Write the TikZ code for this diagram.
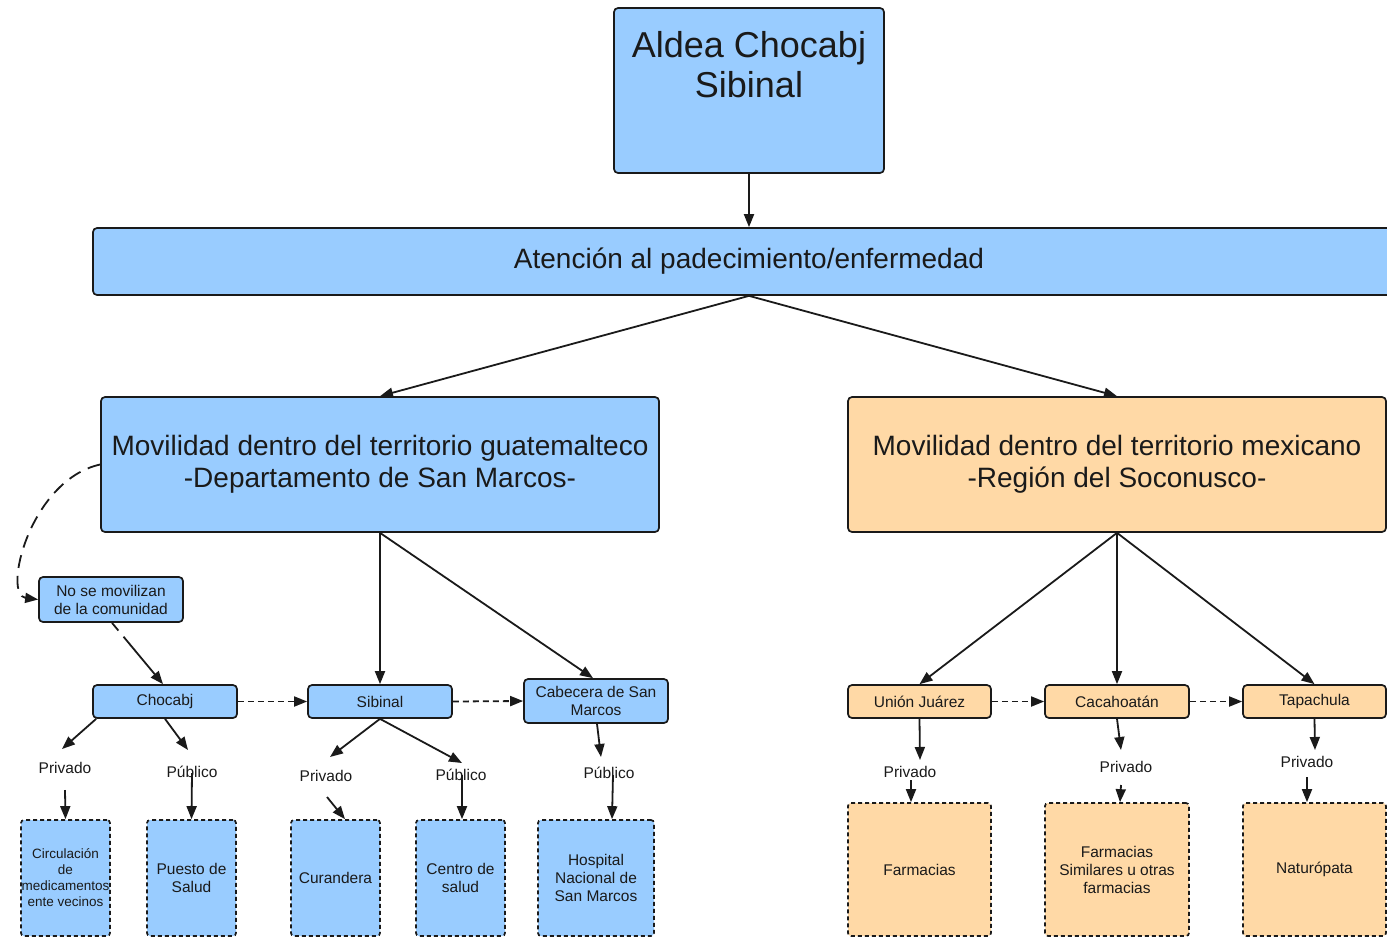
\documentclass[tikz,border=0pt]{standalone}
\usepackage{fontspec}
\setmainfont{Liberation Sans}
\usetikzlibrary{arrows.meta,calc}
\definecolor{bfill}{HTML}{99CCFF}
\definecolor{ofill}{HTML}{FFD9A6}
\definecolor{ink}{HTML}{1A1A1A}
\begin{document}
\begin{tikzpicture}[x=1pt,y=-1pt,
  box/.style={draw=ink, line width=1.7pt, rounded corners=4pt, fill=bfill, inner sep=0pt, align=center, text=ink},
  obox/.style={box, fill=ofill},
  small/.style={font=\fontsize{15.5}{18}\selectfont},
  big/.style={font=\fontsize{28}{32}\selectfont},
  leaf/.style={draw=ink, line width=1.7pt, dash pattern=on 4pt off 3pt, rounded corners=3pt, fill=bfill, inner sep=0pt, align=center, text=ink, font=\fontsize{15.5}{18}\selectfont},
  oleaf/.style={leaf, fill=ofill},
  lbl/.style={inner sep=1pt, text=ink, font=\fontsize{15.5}{18}\selectfont},
  arr/.style={draw=ink, line width=1.8pt, -{Triangle[length=13pt,width=10pt]}},
  darr/.style={arr, dash pattern=on 6pt off 4pt},
]
\clip (0,0) rectangle (1387,938);
\fill[white] (0,0) rectangle (1387,938);

% main boxes
\node[box, minimum width=270, minimum height=165,
  label={[yshift=25.5pt, align=center, text=ink, font=\fontsize{36}{40}\selectfont]center:Aldea Chocabj\\Sibinal}] (top) at (749,90.5) {};
\node[box, big, minimum width=1312, minimum height=67] (atn) at (749,261.5) {Atención al padecimiento/enfermedad};
\node[box, big, minimum width=558, minimum height=135] (guat) at (380,464.5) {Movilidad dentro del territorio guatemalteco\\-Departamento de San Marcos-};
\node[obox, big, minimum width=538, minimum height=135] (mex) at (1117,464.5) {Movilidad dentro del territorio mexicano\\-Región del Soconusco-};

% second level
\node[box, small, minimum width=144, minimum height=45] (nomov) at (111,599.5) {No se movilizan\\de la comunidad};
\node[box, small, minimum width=144, minimum height=33] (choc) at (165,701.5) {Chocabj};
\node[box, small, minimum width=144, minimum height=33] (sib) at (380,701.5) {Sibinal};
\node[box, small, minimum width=144, minimum height=44] (cab) at (596,701) {Cabecera de San\\Marcos};
\node[obox, small, minimum width=143, minimum height=33] (uni) at (919.5,701.5) {Unión Juárez};
\node[obox, small, minimum width=144, minimum height=33] (cac) at (1117,701.5) {Cacahoatán};
\node[obox, small, minimum width=143, minimum height=33] (tap) at (1314.5,701.5) {Tapachula};

% labels
\node[lbl] (pr1) at (65,768) {Privado};
\node[lbl] (pu1) at (192,772) {Público};
\node[lbl] (pr2) at (326,776) {Privado};
\node[lbl] (pu2) at (461,775) {Público};
\node[lbl] (pu3) at (609,773) {Público};
\node[lbl] (pr4) at (910,772) {Privado};
\node[lbl] (pr5) at (1126,767) {Privado};
\node[lbl] (pr6) at (1307,762) {Privado};

% leaves
\node[leaf, font=\fontsize{13.5}{16}\selectfont, minimum width=89, minimum height=116] (b1) at (65.5,878) {Circulación\\de\\medicamentos\\ente vecinos};
\node[leaf, minimum width=89, minimum height=116] (b2) at (191.5,878) {Puesto de\\Salud};
\node[leaf, minimum width=89, minimum height=116] (b3) at (335.5,878) {Curandera};
\node[leaf, minimum width=89, minimum height=116] (b4) at (460.5,878) {Centro de\\salud};
\node[leaf, minimum width=116, minimum height=116] (b5) at (596,878) {Hospital\\Nacional de\\San Marcos};
\node[oleaf, minimum width=143, minimum height=133] (b6) at (919.5,869.5) {Farmacias};
\node[oleaf, minimum width=144, minimum height=133] (b7) at (1117,869.5) {Farmacias\\Similares u otras\\farmacias};
\node[oleaf, minimum width=143, minimum height=133] (b8) at (1314.5,869.5) {Naturópata};

% connectors
\draw[arr] (top.south) -- (atn.north);
\draw[arr] (atn.south) -- (guat.north);
\draw[arr] (atn.south) -- (mex.north);
\draw[arr] (guat.south) -- (sib.north);
\draw[arr] (guat.south) -- ($(cab.north)+(-3,0)$);
\draw[arr, dash pattern=on 13pt off 8pt] (guat.west) .. controls (30,480) and (2,595) .. (nomov.west);
\draw[arr, dash pattern=on 10pt off 8pt on 60pt off 0pt] ($(nomov.south)+(1,0)$) -- ($(choc.north)+(-2,0)$);
\draw[darr] (choc.east) -- (sib.west);
\draw[darr] (sib.east) -- (cab.west);
\draw[darr] (uni.east) -- (cac.west);
\draw[darr] (cac.east) -- (tap.west);

\draw[arr] ($(choc.south west)+(4,0)$) -- ($(pr1)+(-3,-19)$);
\draw[arr] (choc.south) -- ($(pu1)+(-4,-22)$);
\draw[arr] ($(pr1)+(0,22)$) -- (b1.north);
\draw[arr] ($(pu1)+(0,1)$) -- (b2.north);
\draw[arr] (sib.south) -- ($(pr2)+(4,-19)$);
\draw[arr] (sib.south) -- ($(pu2)+(1,-12)$);
\draw[arr] ($(pr2)+(1,21)$) -- ($(b3.north)+(9.5,0)$);
\draw[arr] ($(pu2)+(1,0)$) -- ($(b4.north)+(1.5,0)$);
\draw[arr] ($(cab.south)+(1,0)$) -- ($(pu3)+(-8,-16)$);
\draw[arr] ($(pu3)+(4,2)$) -- ($(b5.north)+(16,0)$);

\draw[arr] (mex.south) -- (uni.north);
\draw[arr] (mex.south) -- (cac.north);
\draw[arr] (mex.south) -- (tap.north);
\draw[arr] (uni.south) -- ($(pr4)+(10,-12)$);
\draw[arr] ($(pr4)+(1,8)$) -- ($(b6.north)+(-8.5,0)$);
\draw[arr] (cac.south) -- ($(pr5)+(-5,-17)$);
\draw[arr] ($(pr5)+(-5,18)$) -- ($(b7.north)+(3,0)$);
\draw[arr] (tap.south) -- ($(pr6)+(8,-12)$);
\draw[arr] ($(pr6)+(0,15)$) -- ($(b8.north)+(-7.5,0)$);
\end{tikzpicture}
\end{document}
